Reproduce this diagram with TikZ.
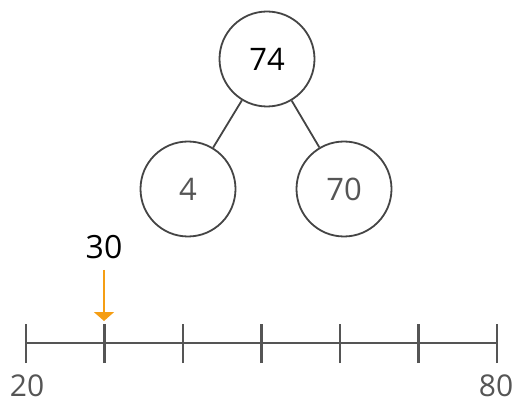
\documentclass[tikz,border=0pt]{standalone}
\usepackage{fontspec}
\setmainfont{Open Sans}
\usetikzlibrary{arrows.meta}
\definecolor{linegray}{HTML}{444444}
\definecolor{axisgray}{HTML}{555555}
\definecolor{labgray}{HTML}{555555}
\definecolor{orangearr}{HTML}{F59E14}
\begin{document}
\begin{tikzpicture}[x=1pt,y=-1pt,
  treenode/.style={circle,draw=linegray,line width=1.8pt,minimum size=95pt,inner sep=0pt,font=\fontsize{31}{33}\selectfont},
  edge/.style={draw=linegray,line width=1.8pt},
  tick/.style={draw=axisgray,line width=2.3pt},
  axislabel/.style={text=labgray,font=\fontsize{30}{32}\selectfont},
]
\useasboundingbox (0,0) rectangle (517,406);
\node[treenode] (root) at (267,59) {74};
\node[treenode,text=labgray] (left) at (188,189) {4};
\node[treenode,text=labgray] (right) at (344,189) {70};
\draw[edge] (root) -- (left);
\draw[edge] (root) -- (right);
% axis
\coordinate (a0) at (26,343);
\coordinate (a6) at (497,343);
\draw[tick] (a0) -- (a6);
\foreach \i in {0,...,6}{
  \coordinate (t\i) at ({26+\i*78.5},343);
  \draw[tick] ([yshift=-20pt]t\i) -- ([yshift=19pt]t\i);
}
\node[axislabel] (l20) at (27,386) {20};
\node[axislabel] (l80) at (496,386) {80};
\node[font=\fontsize{32}{34}\selectfont] (l30) at (104,247) {30};
\coordinate (arrtop) at (104,270);
\coordinate (arrtip) at (104,321);
\draw[orangearr,line width=2pt,-{Triangle[width=20pt,length=9pt]}] (arrtop) -- (arrtip);
\end{tikzpicture}
\end{document}
